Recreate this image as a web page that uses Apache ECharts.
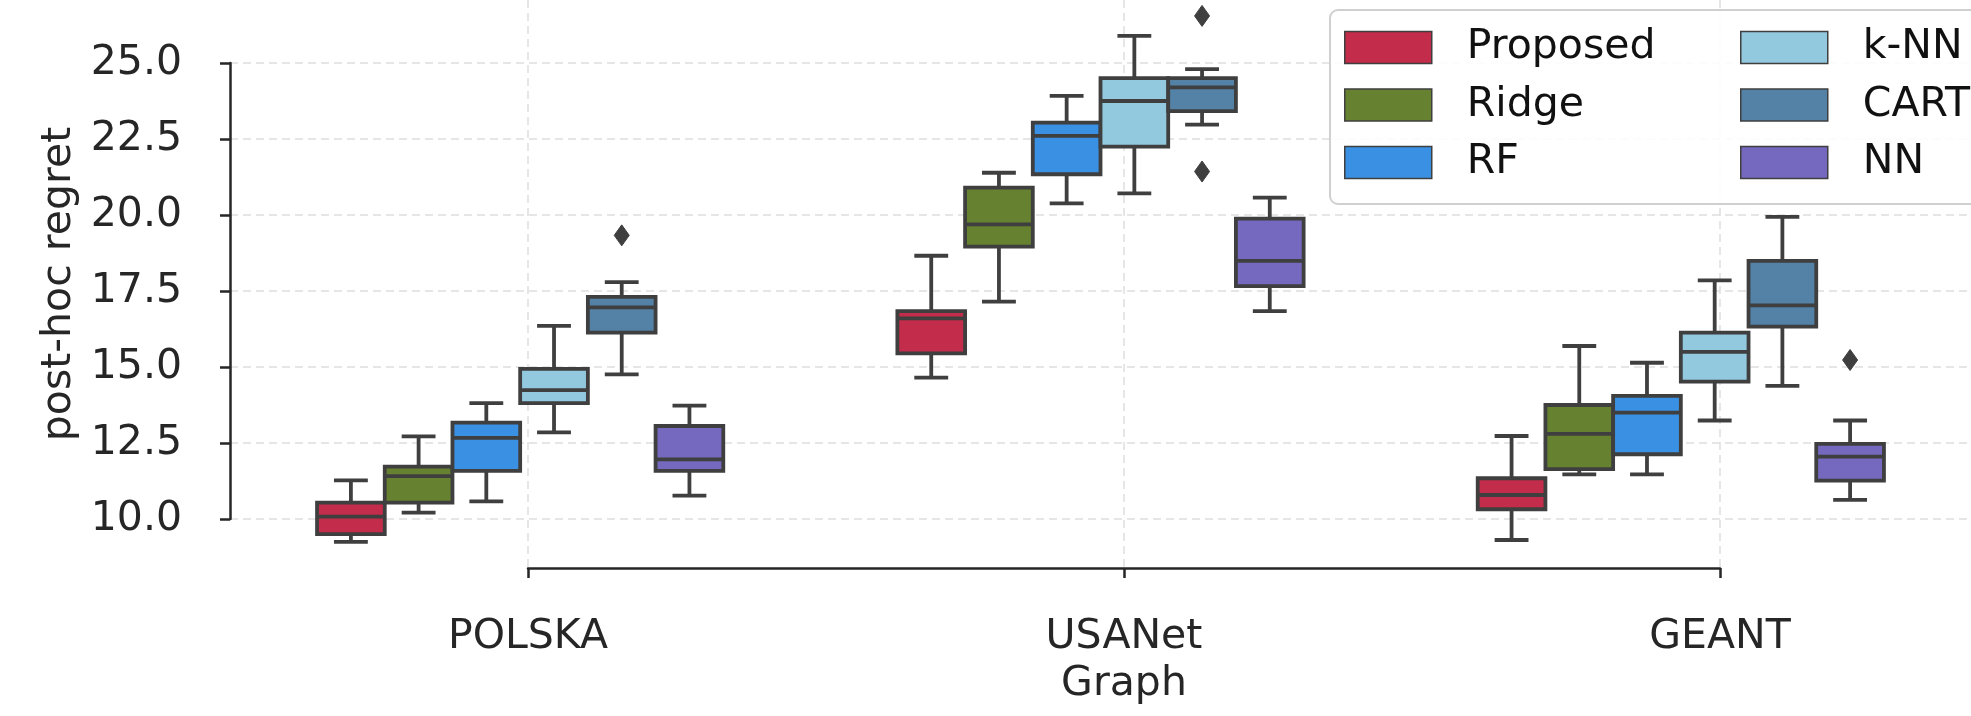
<!DOCTYPE html>
<html><head><meta charset="utf-8">
<script src="https://cdn.jsdelivr.net/npm/echarts@6/dist/echarts.min.js"></script>
<style>html,body{margin:0;padding:0;background:#fff}#c{width:1971px;height:716px}</style>
</head><body><div id="c"></div>
<script>
// ---------------- data ----------------
const graphs = ['POLSKA', 'USANet', 'GEANT'];
const methods = ['Proposed', 'Ridge', 'RF', 'k-NN', 'CART', 'NN'];
const colors = ['#C32D4B', '#668130', '#3A90E3', '#93C9DF', '#5481A6', '#7568BF'];
// [lower whisker, Q1, median, Q3, upper whisker] for POLSKA, USANet, GEANT
const proposed = [[9.25, 9.50, 10.08, 10.54, 11.27], [14.65, 15.45, 16.60, 16.84, 18.66], [9.31, 10.32, 10.79, 11.34, 12.73]];
const ridge    = [[10.21, 10.54, 11.41, 11.72, 12.72], [17.15, 18.96, 19.69, 20.90, 21.39], [11.47, 11.64, 12.80, 13.75, 15.69]];
const rf       = [[10.58, 11.58, 12.67, 13.17, 13.81], [20.38, 21.34, 22.60, 23.04, 23.92], [11.47, 12.13, 13.50, 14.05, 15.14]];
const knn      = [[12.85, 13.81, 14.24, 14.94, 16.35], [20.71, 22.25, 23.75, 24.50, 25.89], [13.24, 14.52, 15.50, 16.13, 17.85]];
const cart     = [[14.76, 16.13, 16.96, 17.31, 17.79], [22.97, 23.42, 24.20, 24.50, 24.80], [14.38, 16.33, 17.03, 18.49, 19.94]];
const nn       = [[10.77, 11.58, 11.96, 13.06, 13.73], [16.84, 17.66, 18.49, 19.88, 20.57], [10.63, 11.26, 12.05, 12.47, 13.24]];
const summaries = [proposed, ridge, rf, knn, cart, nn];
// outliers: [method, graph, value]
const outlierMethod = ['CART', 'CART', 'CART', 'NN'];
const outlierGraph  = ['POLSKA', 'USANet', 'USANet', 'GEANT'];
const outlierValue  = [19.33, 26.55, 21.43, 15.23];
// y ticks
const yTickMin = 10, yTickMax = 25, yTickStep = 2.5;
const xTitle = 'Graph', yTitle = 'post-hoc regret';

// ---------------- layout ----------------
const FONT = 'DejaVu Sans';
const FS = 41;
const TXT = '#262626';
const EDGE = '#3f3f3f';
const LW = 3.8;
const GRIDC = '#dedede';
const PLOT_L = 230, PLOT_T = 0, PLOT_H = 568, BAND = 596;
const TICK_T = 63, TICK_H = 456;           // pixel span of 25.0 .. 10.0
const ppu = TICK_H / (yTickMax - yTickMin);
const YMAX = yTickMax + (TICK_T - PLOT_T) / ppu;
const YMIN = yTickMax - (PLOT_T + PLOT_H - TICK_T) / ppu;
const GROUP_WIDTH = 0.7;

function boxItem(params, api) {
  const m = methods.indexOf(params.seriesName);
  const cat = api.value(0);
  const band = api.size([1, 0])[0];
  const step = band * GROUP_WIDTH / methods.length;
  const cx = api.coord([cat, YMIN])[0] + (m - (methods.length - 1) / 2) * step;
  const yy = k => api.coord([cat, api.value(k)])[1];
  const yLo = yy(1), yQ1 = yy(2), yMed = yy(3), yQ3 = yy(4), yHi = yy(5);
  const hw = step / 2, cw = step / 4;
  const ls = { stroke: EDGE, lineWidth: LW, fill: null };
  return { type: 'group', children: [
    { type: 'line', shape: { x1: cx, y1: yQ1, x2: cx, y2: yLo }, style: ls },
    { type: 'line', shape: { x1: cx, y1: yQ3, x2: cx, y2: yHi }, style: ls },
    { type: 'line', shape: { x1: cx - cw, y1: yLo, x2: cx + cw, y2: yLo }, style: ls },
    { type: 'line', shape: { x1: cx - cw, y1: yHi, x2: cx + cw, y2: yHi }, style: ls },
    { type: 'rect', shape: { x: cx - hw, y: yQ3, width: 2 * hw, height: yQ1 - yQ3 },
      style: { fill: api.visual('color'), stroke: EDGE, lineWidth: LW } },
    { type: 'line', shape: { x1: cx - hw, y1: yMed, x2: cx + hw, y2: yMed }, style: ls }
  ]};
}

function outlierItem(params, api) {
  const cat = api.value(0);
  const m = api.value(2);
  const band = api.size([1, 0])[0];
  const step = band * GROUP_WIDTH / methods.length;
  const p = api.coord([cat, api.value(1)]);
  const cx = p[0] + (m - (methods.length - 1) / 2) * step;
  const cy = p[1];
  const w = 7.5, h = 10.5;
  return { type: 'polygon', shape: { points: [[cx, cy - h], [cx + w, cy], [cx, cy + h], [cx - w, cy]] },
    style: { fill: EDGE, stroke: EDGE, lineWidth: 1 } };
}

const series = methods.map((name, i) => ({
  name: name,
  type: 'custom',
  xAxisIndex: 0, yAxisIndex: 0,
  itemStyle: { color: colors[i] },
  renderItem: boxItem,
  encode: { x: 0, y: [1, 2, 3, 4, 5] },
  data: graphs.map((g, gi) => [gi].concat(summaries[i][gi])),
  z: 3
}));
series.push({
  name: 'outliers',
  type: 'custom',
  xAxisIndex: 0, yAxisIndex: 0,
  itemStyle: { color: EDGE },
  renderItem: outlierItem,
  encode: { x: 0, y: 1 },
  data: outlierValue.map((v, k) => [graphs.indexOf(outlierGraph[k]), v, methods.indexOf(outlierMethod[k])]),
  z: 3
});

const gridDash = { color: GRIDC, width: 1.5, type: [8, 5] };
const legendCommon = {
  orient: 'vertical', top: 10, icon: 'rect',
  itemWidth: 87, itemHeight: 32, itemGap: 16.5,
  itemStyle: { borderColor: EDGE, borderWidth: 1.5 },
  textStyle: { fontFamily: FONT, fontSize: FS, color: '#111', lineHeight: 32, padding: [0, 0, 0, 30] },
  selectedMode: false
};

const option = {
  animation: false,
  backgroundColor: '#fff',
  textStyle: { fontFamily: FONT },
  grid: [
    { left: PLOT_L, top: PLOT_T, width: BAND * graphs.length, height: PLOT_H },            // data
    { left: PLOT_L + BAND / 2, top: PLOT_T, width: BAND * (graphs.length - 1), height: PLOT_H }, // x spine + vertical grid
    { left: PLOT_L, top: TICK_T, width: BAND * graphs.length, height: TICK_H }             // y spine + horizontal grid
  ],
  xAxis: [
    { gridIndex: 0, type: 'category', data: graphs, show: true,
      axisLine: { show: false }, axisTick: { show: false }, axisLabel: { show: false }, splitLine: { show: false } },
    { gridIndex: 1, type: 'category', data: graphs, boundaryGap: false, position: 'bottom', offset: 29,
      axisLine: { show: true, lineStyle: { color: TXT, width: 2.5 } },
      axisTick: { show: true, length: 10, lineStyle: { color: TXT, width: 2.5 } },
      axisLabel: { show: true, fontSize: FS, color: TXT, fontFamily: FONT, margin: 20, interval: 0 },
      splitLine: { show: true, lineStyle: gridDash },
      name: xTitle, nameLocation: 'middle', nameGap: 67,
      nameTextStyle: { fontSize: FS, color: TXT, fontFamily: FONT } },
    { gridIndex: 2, type: 'value', show: false, min: 0, max: 1 }
  ],
  yAxis: [
    { gridIndex: 0, type: 'value', min: YMIN, max: YMAX, show: true,
      axisLine: { show: false }, axisTick: { show: false }, axisLabel: { show: false }, splitLine: { show: false },
      name: yTitle, nameLocation: 'middle', nameRotate: 90, nameGap: 150,
      nameTextStyle: { fontSize: FS, color: TXT, fontFamily: FONT } },
    { gridIndex: 1, type: 'value', show: false, min: 0, max: 1 },
    { gridIndex: 2, type: 'value', min: yTickMin, max: yTickMax, interval: yTickStep, offset: 25,
      axisLine: { show: true, lineStyle: { color: TXT, width: 2.5 } },
      axisTick: { show: true, length: 10, lineStyle: { color: TXT, width: 2.5 } },
      axisLabel: { show: true, fontSize: FS, color: TXT, fontFamily: FONT, margin: 23, formatter: v => v.toFixed(1) },
      splitLine: { show: true, lineStyle: gridDash } }
  ],
  legend: [
    Object.assign({}, legendCommon, {
      data: methods.slice(0, 3), left: 1330,
      padding: [17, 700, 21, 14],
      backgroundColor: 'rgba(255,255,255,0.85)', borderColor: '#d0d0d0', borderWidth: 2, borderRadius: 8
    }),
    Object.assign({}, legendCommon, {
      data: methods.slice(3), left: 1740,
      padding: [17, 0, 21, 0]
    })
  ],
  series: series
};

const chart = echarts.init(document.getElementById('c'), null, { renderer: 'canvas' });
chart.setOption(option);
</script>
</body></html>
